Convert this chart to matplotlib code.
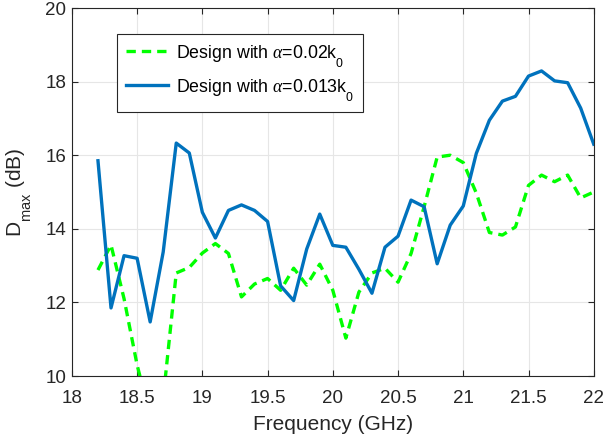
import matplotlib
matplotlib.use('Agg')
import matplotlib.pyplot as plt
import matplotlib._mathtext as mt

plt.rcParams['font.family'] = ['Liberation Sans', 'DejaVu Sans']
plt.rcParams['mathtext.fontset'] = 'custom'
plt.rcParams['mathtext.rm'] = 'Liberation Sans'
plt.rcParams['mathtext.it'] = 'Liberation Serif:italic'
# MATLAB-style subscripts sit lower than matplotlib's default
mt.FontConstantsBase.sub1 = 1.0
mt.FontConstantsBase.sub2 = 1.1

freq = [18.2, 18.3, 18.4, 18.5, 18.6, 18.7, 18.8, 18.9, 19.0, 19.1,
        19.2, 19.3, 19.4, 19.5, 19.6, 19.7, 19.8, 19.9, 20.0, 20.1,
        20.2, 20.3, 20.4, 20.5, 20.6, 20.7, 20.8, 20.9, 21.0, 21.1,
        21.2, 21.3, 21.4, 21.5, 21.6, 21.7, 21.8, 21.9, 22.0]

# alpha = 0.02 k0 (green dashed)
d_002 = [12.88, 13.56, 12.1, 10.3, 8.9, 9.4, 12.8, 12.95, 13.34, 13.6,
         13.33, 12.15, 12.5, 12.65, 12.33, 12.93, 12.47, 13.04, 12.33, 11.03,
         12.28, 12.8, 12.93, 12.55, 13.33, 14.6, 15.95, 16.0, 15.8, 14.97,
         13.9, 13.83, 14.05, 15.18, 15.46, 15.28, 15.46, 14.84, 15.0]

# alpha = 0.013 k0 (blue solid)
d_0013 = [15.85, 11.85, 13.27, 13.2, 11.47, 13.37, 16.33, 16.06, 14.45, 13.75,
          14.5, 14.65, 14.5, 14.2, 12.45, 12.05, 13.45, 14.4, 13.55, 13.5,
          12.9, 12.25, 13.5, 13.8, 14.78, 14.6, 13.05, 14.1, 14.62, 16.05,
          16.95, 17.47, 17.6, 18.15, 18.29, 18.02, 17.97, 17.28, 16.3]

fig = plt.figure(figsize=(6.04, 4.45), dpi=100)
ax = fig.add_axes([0.119, 0.155, 0.864, 0.827])

ax.plot(freq, d_002, '--', color='#00FF00', lw=2.4, dashes=(2.8, 1.8),
        label=r'Design with $\alpha$=0.02k$_0$')
ax.plot(freq, d_0013, '-', color='#0072BD', lw=2.4,
        label=r'Design with $\alpha$=0.013k$_0$')

ax.set_xlim(18, 22)
ax.set_ylim(10, 20)
ax.set_xticks([18, 18.5, 19, 19.5, 20, 20.5, 21, 21.5, 22])
ax.set_xticklabels(['18', '18.5', '19', '19.5', '20', '20.5', '21', '21.5', '22'])
ax.set_yticks([10, 12, 14, 16, 18, 20])
ax.tick_params(direction='in', top=True, right=True, labelsize=13.5, length=4,
               colors='#262626')
ax.tick_params(axis='x', pad=10)
ax.tick_params(axis='y', pad=4)
ax.grid(True, color='#e6e6e6', lw=0.8)
ax.set_axisbelow(True)
for s in ax.spines.values():
    s.set_color('#262626')
    s.set_linewidth(0.8)

ax.set_xlabel('Frequency (GHz)', fontsize=15, color='#262626', labelpad=6)
ax.set_ylabel(r'D$_{\rm max}$ (dB)', fontsize=15, color='#262626', labelpad=9)

leg = ax.legend(loc='upper left', bbox_to_anchor=(0.086, 0.93), fontsize=12.8,
                fancybox=False, edgecolor='#262626', framealpha=1,
                handlelength=2.4, handletextpad=0.45, borderpad=0.5,
                labelspacing=0.45, borderaxespad=0)
leg.get_frame().set_linewidth(0.8)

fig.savefig('out.png', dpi=100)
